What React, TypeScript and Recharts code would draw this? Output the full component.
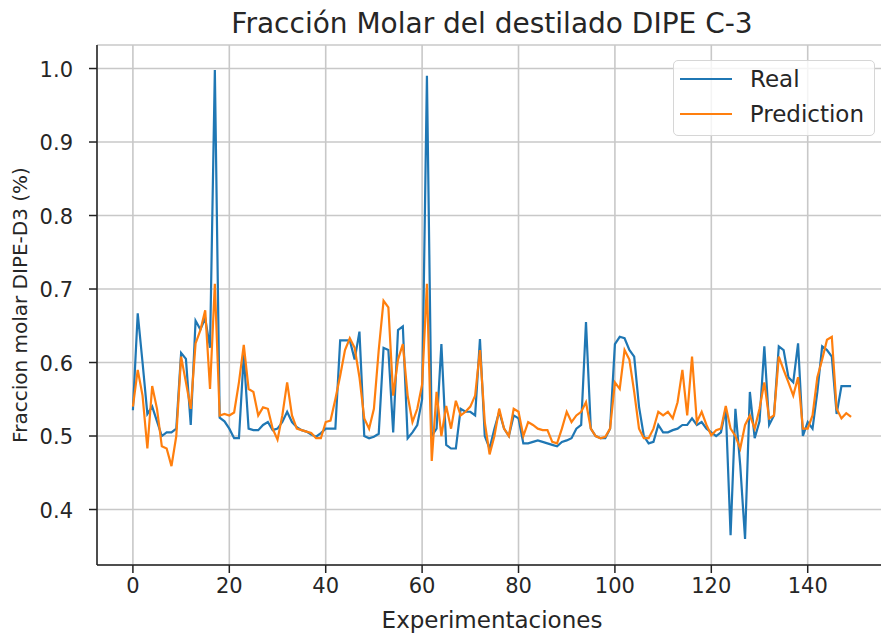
import { CartesianGrid, Legend, Line, LineChart, XAxis, YAxis } from "recharts";

const REAL = [
  0.535, 0.667, 0.6, 0.53, 0.54, 0.52, 0.5, 0.505, 0.505, 0.51,
  0.613, 0.605, 0.515, 0.657, 0.645, 0.66, 0.62, 0.998, 0.525, 0.52,
  0.51, 0.497, 0.497, 0.61, 0.51, 0.508, 0.508, 0.515, 0.519, 0.508,
  0.51, 0.519, 0.533, 0.519, 0.512, 0.508, 0.506, 0.502, 0.499, 0.504,
  0.51, 0.51, 0.51, 0.63, 0.63, 0.63, 0.604, 0.642, 0.5, 0.497,
  0.499, 0.503, 0.62, 0.617, 0.505, 0.644, 0.649, 0.497, 0.505, 0.515,
  0.55, 0.99, 0.5, 0.51, 0.625, 0.488, 0.483, 0.483, 0.537, 0.533,
  0.533, 0.528, 0.632, 0.5, 0.483, 0.51, 0.533, 0.51, 0.5, 0.528,
  0.524, 0.49, 0.49, 0.492, 0.494, 0.492, 0.49, 0.488, 0.486, 0.492,
  0.494, 0.497, 0.51, 0.515, 0.655, 0.51, 0.5, 0.497, 0.497, 0.51,
  0.625, 0.635, 0.633, 0.617, 0.608, 0.54, 0.5, 0.49, 0.492, 0.515,
  0.505, 0.505, 0.508, 0.51, 0.515, 0.515, 0.524, 0.515, 0.519, 0.51,
  0.505, 0.5, 0.505, 0.537, 0.365, 0.537, 0.46, 0.36, 0.56, 0.497,
  0.52, 0.622, 0.515, 0.528, 0.622, 0.617, 0.58, 0.573, 0.626, 0.5,
  0.519, 0.51, 0.56, 0.622, 0.617, 0.608, 0.53, 0.568, 0.568, 0.568,
];

const PREDICTION = [
  0.54, 0.59, 0.555, 0.483, 0.568, 0.537, 0.486, 0.483, 0.459, 0.5,
  0.608, 0.573, 0.537, 0.626, 0.644, 0.671, 0.564, 0.707, 0.528, 0.53,
  0.528, 0.532, 0.573, 0.624, 0.564, 0.56, 0.528, 0.539, 0.537, 0.51,
  0.495, 0.528, 0.573, 0.528, 0.51, 0.508, 0.506, 0.504, 0.497, 0.497,
  0.519, 0.521, 0.55, 0.582, 0.617, 0.633, 0.62, 0.58, 0.524, 0.51,
  0.537, 0.617, 0.684, 0.675, 0.555, 0.604, 0.625, 0.555, 0.519, 0.537,
  0.57, 0.707, 0.466, 0.56, 0.5, 0.541, 0.51, 0.548, 0.528, 0.533,
  0.54, 0.555, 0.617, 0.519, 0.475, 0.5, 0.537, 0.51, 0.5, 0.537,
  0.533, 0.5, 0.519, 0.515, 0.51, 0.508, 0.508, 0.492, 0.49, 0.51,
  0.533, 0.519, 0.528, 0.533, 0.546, 0.51, 0.5, 0.497, 0.499, 0.51,
  0.573, 0.564, 0.617, 0.604, 0.56, 0.51, 0.497, 0.497, 0.51, 0.533,
  0.528, 0.533, 0.524, 0.546, 0.59, 0.528, 0.608, 0.519, 0.533, 0.515,
  0.501, 0.508, 0.51, 0.541, 0.51, 0.5, 0.483, 0.515, 0.528, 0.51,
  0.537, 0.573, 0.524, 0.528, 0.608, 0.59, 0.573, 0.555, 0.58, 0.51,
  0.51, 0.528, 0.58, 0.604, 0.631, 0.635, 0.537, 0.524, 0.531, 0.526,
];

const X_TICKS = [0, 20, 40, 60, 80, 100, 120, 140];
const Y_TICKS = [0.4, 0.5, 0.6, 0.7, 0.8, 0.9, 1.0];

const SERIES = [
  { key: "real", name: "Real", color: "#1f77b4" },
  { key: "prediction", name: "Prediction", color: "#ff7f0e" },
];

const FONT = "'DejaVu Sans', Verdana, sans-serif";
const INK = "#262626";

const data = REAL.map((v, i) => ({ idx: i, real: v, prediction: PREDICTION[i] }));

function XTick({ x, y, payload }: any) {
  return (
    <text x={x} y={y + 20} textAnchor="middle" fontSize={21} fontFamily={FONT} fill={INK}>
      {payload.value}
    </text>
  );
}

function YTick({ x, y, payload }: any) {
  return (
    <text x={x - 16} y={y + 8} textAnchor="end" fontSize={21} fontFamily={FONT} fill={INK}>
      {Number(payload.value).toFixed(1)}
    </text>
  );
}

function LegendBox() {
  return (
    <div
      style={{
        background: "rgba(255,255,255,0.8)",
        border: "1.5px solid #d6d6d6",
        borderRadius: 5,
        padding: "0 10px 4px 6px",
        fontFamily: FONT,
        fontSize: 23,
        color: INK,
      }}
    >
      {SERIES.map((s) => (
        <div key={s.key} style={{ display: "flex", alignItems: "center", height: 35 }}>
          <span style={{ width: 52, height: 0, borderTop: `2.5px solid ${s.color}`, marginRight: 18 }} />
          <span>{s.name}</span>
        </div>
      ))}
    </div>
  );
}

export default function App() {
  return (
    <div style={{ position: "absolute", left: 0, top: 0, width: 881, height: 637, overflow: "hidden", background: "#fff" }}>
      <LineChart width={900} height={637} data={data} margin={{ top: 45, right: 13, bottom: 0, left: 0 }}>
        <CartesianGrid stroke="#c8c8c8" strokeWidth={1.6} />
        <XAxis
          dataKey="idx"
          type="number"
          domain={[-7.45, 156.45]}
          ticks={X_TICKS}
          height={72}
          tickSize={8}
          tickMargin={0}
          tick={<XTick />}
          stroke="#222"
          strokeWidth={1.5}
        />
        <XAxis xAxisId="top" orientation="top" type="number" domain={[-7.45, 156.45]} height={0} tick={false} tickLine={false} stroke="#222" strokeWidth={1.5} />
        <YAxis
          type="number"
          domain={[0.3245, 1.032]}
          ticks={Y_TICKS}
          width={97}
          tickSize={8}
          tickMargin={0}
          tick={<YTick />}
          stroke="#222"
          strokeWidth={1.5}
        />
        <Legend
          layout="vertical"
          align="center"
          verticalAlign="middle"
          content={<LegendBox />}
          wrapperStyle={{ position: "absolute", left: 673, top: 60, width: 202, height: "auto" }}
        />
        {SERIES.map((s) => (
          <Line
            key={s.key}
            dataKey={s.key}
            name={s.name}
            type="linear"
            stroke={s.color}
            strokeWidth={2.2}
            dot={false}
            isAnimationActive={false}
          />
        ))}
      </LineChart>
      <svg width={881} height={637} style={{ position: "absolute", left: 0, top: 0, pointerEvents: "none" }}>
        <text x={492} y={33} textAnchor="middle" fontSize={28} fontFamily={FONT} fill={INK}>
          Fracción Molar del destilado DIPE C-3
        </text>
        <text x={492} y={628} textAnchor="middle" fontSize={23} fontFamily={FONT} fill={INK}>
          Experimentaciones
        </text>
        <text x={27} y={305} textAnchor="middle" fontSize={20} fontFamily={FONT} fill={INK} transform="rotate(-90 27 305)">
          Fraccion molar DIPE-D3 (%)
        </text>
      </svg>
    </div>
  );
}
